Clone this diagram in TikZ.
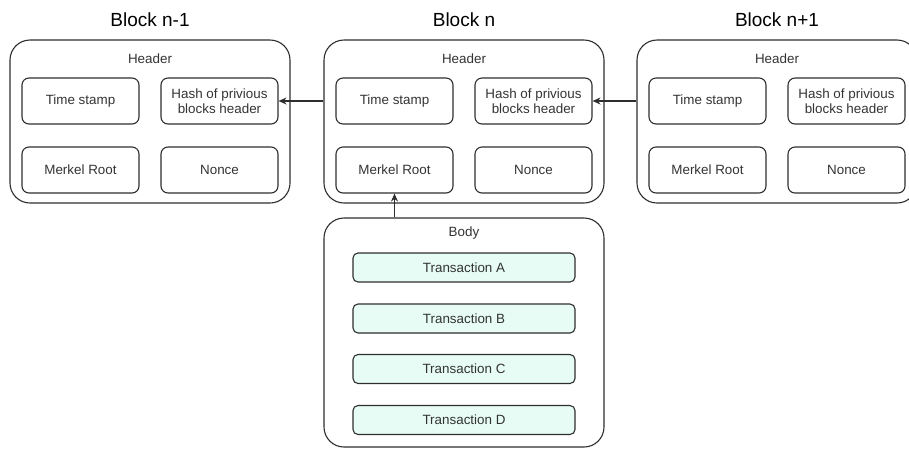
\documentclass[tikz,border=0pt]{standalone}
\usepackage{fontspec}
\setmainfont{Liberation Sans}
\usetikzlibrary{positioning,arrows.meta}

\definecolor{linegray}{HTML}{2E2E2E}
\definecolor{textgray}{HTML}{333333}
\definecolor{txfill}{HTML}{E6FCF4}

\tikzset{
  block/.style={draw=linegray, line width=1.1pt, rounded corners=20pt,
    minimum width=280pt, minimum height=163pt},
  field/.style={draw=linegray, line width=1.1pt, rounded corners=7pt,
    minimum width=117pt, minimum height=46pt, align=center, text=textgray,
    font=\fontsize{13.4}{15.5}\selectfont},
  tx/.style={field, fill=txfill, rounded corners=5pt,
    minimum width=222pt, minimum height=29pt},
  caption/.style={text=textgray, font=\fontsize{13.4}{15.5}\selectfont},
  title/.style={text=black, font=\fontsize{19}{22}\selectfont},
  link/.style={draw=linegray, line width=1.1pt, -{Stealth[length=8pt,width=7pt]}},
}

\begin{document}
\begin{tikzpicture}[x=1pt, y=-1pt]
    \useasboundingbox (0,0) rectangle (909,448);
    \clip (0,0) rectangle (909,448);

    % three chained blocks
    \node[block] (prev) at (150,121.5) {};
    \node[block] (cur)  at (464,121.5) {};
    \node[block] (next) at (777,121.5) {};
    \path (prev) ++ (0,-101.5) node[title] {Block n-1};
    \path (cur)  ++ (0,-101.5) node[title] {Block n};
    \path (next) ++ (0,-101.5) node[title] {Block n+1};

    % header fields
    \path (prev) ++ (0,-62.5) node[caption] {Header};
    \path (prev) ++ (-69.5,-20.5) node[field] (prev-ts) {Time stamp};
    \path (prev) ++ (69.5,-20.5) node[field] (prev-hash) {Hash of privious\\blocks header};
    \path (prev) ++ (-69.5,48.5) node[field] (prev-mr) {Merkel Root};
    \path (prev) ++ (69.5,48.5) node[field] (prev-nonce) {Nonce};

    \path (cur) ++ (0,-62.5) node[caption] {Header};
    \path (cur) ++ (-69.5,-20.5) node[field] (cur-ts) {Time stamp};
    \path (cur) ++ (69.5,-20.5) node[field] (cur-hash) {Hash of privious\\blocks header};
    \path (cur) ++ (-69.5,48.5) node[field] (cur-mr) {Merkel Root};
    \path (cur) ++ (69.5,48.5) node[field] (cur-nonce) {Nonce};

    \path (next) ++ (0,-62.5) node[caption] {Header};
    \path (next) ++ (-69.5,-20.5) node[field] (next-ts) {Time stamp};
    \path (next) ++ (69.5,-20.5) node[field] (next-hash) {Hash of privious\\blocks header};
    \path (next) ++ (-69.5,48.5) node[field] (next-mr) {Merkel Root};
    \path (next) ++ (69.5,48.5) node[field] (next-nonce) {Nonce};

    % body of block n
    \node[block, minimum height=229pt] (body) at (464,332.5) {};
    \path (body) ++ (0,-99.5) node[caption] {Body};
    \path (body) ++ (0,-65) node[tx] (txa) {Transaction A};
    \path (body) ++ (0,-14) node[tx] (txb) {Transaction B};
    \path (body) ++ (0,36.5) node[tx] (txc) {Transaction C};
    \path (body) ++ (0,87.5) node[tx] (txd) {Transaction D};

    \draw[link] (cur.west |- cur-hash) -- (prev-hash.east);
    \draw[link] (next.west |- next-hash) -- (cur-hash.east);
    \draw[link] (body.north -| cur-mr) -- (cur-mr.south);
\end{tikzpicture}
\end{document}
